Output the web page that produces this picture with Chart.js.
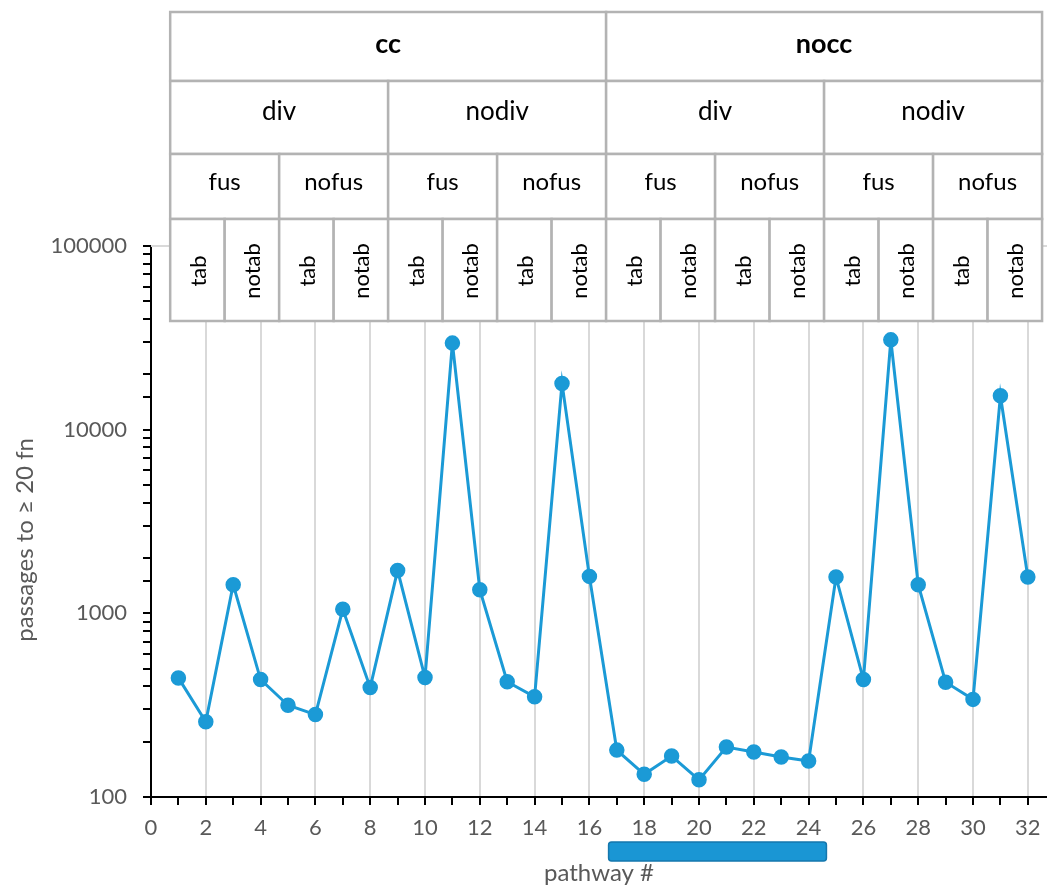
<!DOCTYPE html>
<html lang="en">
<head>
    <meta charset="UTF-8">
    <title>Passages per pathway</title>
    <script src="https://cdn.jsdelivr.net/npm/chart.js"></script>
    <style>
        html, body { margin: 0; padding: 0; background: #fff; }
        #wrap { width: 1047px; height: 888px; }
    </style>
</head>
<body>
    <div id="wrap"><canvas id="chart" width="1047" height="888"></canvas></div>

    <script>
        // pathway number and measured passages (log axis)
        const pathways = [1, 2, 3, 4, 5, 6, 7, 8, 9, 10, 11, 12, 13, 14, 15, 16,
                          17, 18, 19, 20, 21, 22, 23, 24, 25, 26, 27, 28, 29, 30, 31, 32];
        const passages = [445, 257, 1432, 436, 316, 281, 1052, 395, 1713, 447, 29600, 1345, 424, 351, 17860, 1589,
                          180, 133, 167, 124, 187, 176, 165, 157, 1575, 436, 30830, 1432, 422, 340, 15310, 1575];
        const xTickValues = [0, 1, 2, 3, 4, 5, 6, 7, 8, 9, 10, 11, 12, 13, 14, 15, 16,
                             17, 18, 19, 20, 21, 22, 23, 24, 25, 26, 27, 28, 29, 30, 31, 32];

        // header hierarchy
        const level1 = ['cc', 'nocc'];
        const level2 = ['div', 'nodiv'];
        const level3 = ['fus', 'nofus'];
        const level4 = ['tab', 'notab'];
        const headerSpan = [0.7, 32.52];   // in pathway units
        const highlightRange = [16.7, 24.65];

        const blue = '#1b9ad6';
        const gray = '#595959';

        Chart.defaults.font.family = 'Lato';

        const topLine = {
            id: 'topLine',
            beforeDatasetsDraw(chart) {
                const {ctx, chartArea} = chart;
                ctx.save();
                ctx.strokeStyle = '#d9d9d9';
                ctx.lineWidth = 2;
                ctx.beginPath();
                ctx.moveTo(chartArea.left, chartArea.top);
                ctx.lineTo(chartArea.right, chartArea.top);
                ctx.stroke();
                ctx.restore();
            }
        };

        const header = {
            id: 'header',
            afterDraw(chart) {
                const ctx = chart.ctx;
                const xs = chart.scales.x;
                const x0 = xs.getPixelForValue(headerSpan[0]);
                const x1 = xs.getPixelForValue(headerSpan[1]);
                const rows = [
                    { labels: level1, top: 12, bottom: 81, font: 'bold 27px Lato', base: 53 },
                    { labels: level2, top: 81, bottom: 154, font: '26px Lato', base: 120 },
                    { labels: level3, top: 154, bottom: 219, font: '24px Lato', base: 190 },
                    { labels: level4, top: 219, bottom: 321, font: '22px Lato', rotate: true }
                ];
                let count = 1;
                ctx.save();
                rows.forEach(row => {
                    count *= row.labels.length;
                    const w = (x1 - x0) / count;
                    for (let i = 0; i < count; i++) {
                        const l = x0 + i * w;
                        ctx.fillStyle = '#fff';
                        ctx.fillRect(l, row.top, w, row.bottom - row.top);
                        ctx.strokeStyle = '#b3b3b3';
                        ctx.lineWidth = 2.5;
                        ctx.strokeRect(l, row.top, w, row.bottom - row.top);

                        const label = row.labels[i % row.labels.length];
                        ctx.fillStyle = '#000';
                        ctx.font = row.font;
                        ctx.textBaseline = 'alphabetic';
                        ctx.textAlign = 'center';
                        if (row.rotate) {
                            ctx.save();
                            ctx.translate(l + w / 2 + 8.5, (row.top + row.bottom) / 2 + 1);
                            ctx.rotate(-Math.PI / 2);
                            ctx.fillText(label, 0, 0);
                            ctx.restore();
                        } else {
                            ctx.fillText(label, l + w / 2, row.base);
                        }
                    }
                });

                // highlighted pathway range under the axis
                const hx0 = xs.getPixelForValue(highlightRange[0]);
                const hx1 = xs.getPixelForValue(highlightRange[1]);
                ctx.beginPath();
                ctx.roundRect(hx0, 842, hx1 - hx0, 19, 3);
                ctx.fillStyle = '#1a96d4';
                ctx.fill();
                ctx.strokeStyle = '#1577ad';
                ctx.lineWidth = 1.5;
                ctx.stroke();
                ctx.restore();
            }
        };

        const ctx = document.getElementById('chart').getContext('2d');
        new Chart(ctx, {
            type: 'line',
            data: {
                datasets: [{
                    data: pathways.map((p, i) => ({ x: p, y: passages[i] })),
                    borderColor: blue,
                    backgroundColor: blue,
                    borderWidth: 3,
                    pointRadius: 7,
                    pointHoverRadius: 7,
                    pointBorderWidth: 1.5,
                    tension: 0
                }]
            },
            options: {
                responsive: false,
                animation: false,
                devicePixelRatio: 1,
                layout: { autoPadding: false, padding: { top: 246, left: 0, right: 0, bottom: 0 } },
                plugins: { legend: { display: false }, tooltip: { enabled: false } },
                scales: {
                    x: {
                        type: 'linear',
                        position: 'bottom',
                        min: 0,
                        max: 32.7,
                        afterBuildTicks(s) { s.ticks = xTickValues.map(v => ({ value: v })); },
                        afterFit(s) {
                            s.height = 91;
                            s.paddingLeft = 0;
                            s.paddingRight = 0;
                        },
                        ticks: {
                            autoSkip: false,
                            maxRotation: 0,
                            padding: 10,
                            color: gray,
                            font: { size: 22 },
                            callback: v => (v % 2 === 0 ? String(v) : '')
                        },
                        grid: {
                            color: c => (c.tick && c.tick.value % 2 === 0 && c.tick.value > 0) ? '#d9d9d9' : 'rgba(0,0,0,0)',
                            lineWidth: 2,
                            tickColor: '#000',
                            tickLength: 8,
                            tickWidth: 2
                        },
                        border: { color: '#000', width: 2 },
                        title: {
                            display: true,
                            text: 'pathway #',
                            color: gray,
                            font: { size: 24, lineHeight: 1 },
                            padding: { top: 0, bottom: 3 }
                        }
                    },
                    y: {
                        type: 'logarithmic',
                        min: 100,
                        max: 100000,
                        afterFit(s) {
                            s.width = 151;
                            s.paddingTop = 0;
                            s.paddingBottom = 0;
                        },
                        ticks: {
                            autoSkip: false,
                            padding: 16,
                            color: gray,
                            font: { size: 22 },
                            callback: v => {
                                const l = Math.log10(v);
                                return Math.abs(l - Math.round(l)) < 1e-6 ? String(v) : '';
                            }
                        },
                        grid: {
                            drawOnChartArea: false,
                            tickColor: '#000',
                            tickLength: 8,
                            lineWidth: 2
                        },
                        border: { color: '#000', width: 2 },
                        title: {
                            display: true,
                            // trailing no-break spaces nudge the title a little below centre, as in the original
                            text: 'passages to ≥ 20 fn\u00a0\u00a0\u00a0\u00a0\u00a0\u00a0',
                            color: gray,
                            font: { size: 24, lineHeight: 1 },
                            padding: { top: 13, bottom: 0 }
                        }
                    }
                }
            },
            plugins: [topLine, header]
        });
    </script>
</body>
</html>
